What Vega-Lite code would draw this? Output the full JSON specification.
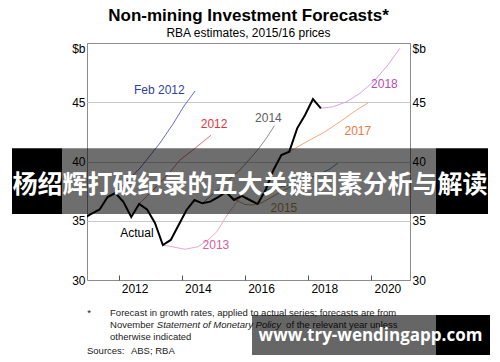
{
  "$schema": "https://vega.github.io/schema/vega-lite/v6.json",
  "autosize": {"type": "none"},
  "width": 323,
  "height": 237,
  "padding": {"left": 87, "top": 43, "right": 90, "bottom": 82},
  "background": "white",
  "config": {
    "view": {"stroke": "#8c8c8c", "strokeWidth": 1},
    "font": "Liberation Sans",
    "text": {"font": "Liberation Sans"}
  },
  "title": {
    "text": "Non-mining Investment Forecasts*",
    "subtitle": "RBA estimates, 2015/16 prices",
    "font": "Liberation Sans",
    "fontSize": 17,
    "fontWeight": "bold",
    "color": "#000",
    "subtitleFont": "Liberation Sans",
    "subtitleFontSize": 12,
    "subtitleColor": "#000",
    "subtitlePadding": 3,
    "anchor": "middle",
    "frame": "group",
    "offset": 2
  },
  "datasets": {
    "actual": [
      {"t": 2010.90, "v": 35.23}, {"t": 2011.15, "v": 35.61}, {"t": 2011.40, "v": 35.95},
      {"t": 2011.65, "v": 37.00}, {"t": 2011.90, "v": 37.34}, {"t": 2012.15, "v": 36.60},
      {"t": 2012.40, "v": 35.32}, {"t": 2012.65, "v": 36.41}, {"t": 2012.90, "v": 35.95},
      {"t": 2013.15, "v": 34.81}, {"t": 2013.40, "v": 32.95}, {"t": 2013.65, "v": 33.38},
      {"t": 2013.90, "v": 34.64}, {"t": 2014.15, "v": 35.91}, {"t": 2014.40, "v": 36.75},
      {"t": 2014.65, "v": 36.47}, {"t": 2014.90, "v": 36.61}, {"t": 2015.15, "v": 37.00},
      {"t": 2015.40, "v": 37.43}, {"t": 2015.65, "v": 36.75}, {"t": 2015.90, "v": 37.09},
      {"t": 2016.15, "v": 36.75}, {"t": 2016.40, "v": 36.41}, {"t": 2016.65, "v": 37.59},
      {"t": 2016.90, "v": 39.28}, {"t": 2017.15, "v": 40.55}, {"t": 2017.40, "v": 40.83},
      {"t": 2017.65, "v": 42.80}, {"t": 2017.90, "v": 43.92}, {"t": 2018.15, "v": 45.27},
      {"t": 2018.40, "v": 44.49}
    ],
    "lines": [
      {"s": "Feb 2012", "t": 2011.90, "v": 37.34}, {"s": "Feb 2012", "t": 2012.68, "v": 39.45},
      {"s": "Feb 2012", "t": 2013.31, "v": 41.56}, {"s": "Feb 2012", "t": 2013.72, "v": 43.16},
      {"s": "Feb 2012", "t": 2014.07, "v": 44.68}, {"s": "Feb 2012", "t": 2014.42, "v": 45.95},
      {"s": "2012", "t": 2012.65, "v": 36.41}, {"s": "2012", "t": 2013.15, "v": 37.76},
      {"s": "2012", "t": 2013.63, "v": 39.11}, {"s": "2012", "t": 2013.94, "v": 40.13},
      {"s": "2012", "t": 2014.35, "v": 40.97}, {"s": "2012", "t": 2014.92, "v": 42.21},
      {"s": "2013", "t": 2013.40, "v": 32.95}, {"s": "2013", "t": 2013.69, "v": 32.81},
      {"s": "2013", "t": 2014.10, "v": 32.59}, {"s": "2013", "t": 2014.51, "v": 32.81},
      {"s": "2013", "t": 2014.83, "v": 33.38}, {"s": "2013", "t": 2015.11, "v": 34.08},
      {"s": "2013", "t": 2015.27, "v": 34.78}, {"s": "2013", "t": 2015.47, "v": 35.63},
      {"s": "2013", "t": 2015.63, "v": 36.19}, {"s": "2013", "t": 2016.00, "v": 37.51},
      {"s": "2014", "t": 2014.65, "v": 36.47}, {"s": "2014", "t": 2015.27, "v": 37.93},
      {"s": "2014", "t": 2015.84, "v": 39.28}, {"s": "2014", "t": 2016.26, "v": 40.55},
      {"s": "2014", "t": 2016.47, "v": 41.22}, {"s": "2014", "t": 2016.70, "v": 42.07},
      {"s": "2014", "t": 2016.93, "v": 43.02},
      {"s": "2015", "t": 2015.40, "v": 37.43}, {"s": "2015", "t": 2015.71, "v": 36.75},
      {"s": "2015", "t": 2016.00, "v": 36.37}, {"s": "2015", "t": 2016.25, "v": 36.33},
      {"s": "2015", "t": 2016.54, "v": 36.54}, {"s": "2015", "t": 2016.85, "v": 37.00},
      {"s": "2015", "t": 2017.17, "v": 37.51}, {"s": "2015", "t": 2017.58, "v": 38.02},
      {"s": "2016", "t": 2016.65, "v": 37.59}, {"s": "2016", "t": 2017.27, "v": 37.93},
      {"s": "2016", "t": 2017.90, "v": 38.44}, {"s": "2016", "t": 2018.37, "v": 38.95},
      {"s": "2016", "t": 2018.69, "v": 39.37}, {"s": "2016", "t": 2018.94, "v": 39.87},
      {"s": "2017", "t": 2017.40, "v": 40.83}, {"s": "2017", "t": 2017.95, "v": 41.67},
      {"s": "2017", "t": 2018.48, "v": 42.43}, {"s": "2017", "t": 2019.01, "v": 43.36},
      {"s": "2017", "t": 2019.53, "v": 44.35}, {"s": "2017", "t": 2019.90, "v": 44.96},
      {"s": "2018", "t": 2018.40, "v": 44.49}, {"s": "2018", "t": 2018.79, "v": 44.62},
      {"s": "2018", "t": 2019.22, "v": 45.05}, {"s": "2018", "t": 2019.64, "v": 45.76},
      {"s": "2018", "t": 2020.06, "v": 46.73}, {"s": "2018", "t": 2020.48, "v": 48.00},
      {"s": "2018", "t": 2020.90, "v": 49.55}
    ],
    "labels": [
      {"s": "Feb 2012", "t": 2013.29, "v": 46.03},
      {"s": "2012", "t": 2015.02, "v": 43.14},
      {"s": "2013", "t": 2015.08, "v": 32.95},
      {"s": "2014", "t": 2016.74, "v": 43.71},
      {"s": "2015", "t": 2017.23, "v": 36.10},
      {"s": "2017", "t": 2019.57, "v": 42.60},
      {"s": "2018", "t": 2020.41, "v": 46.51},
      {"s": "Actual", "t": 2012.58, "v": 33.99}
    ],
    "bannerBlack": [
      {"t": 2008.627, "t2": 2010.209, "v": 41.114, "v2": 35.57},
      {"t": 2022.043, "t2": 2023.688, "v": 41.114, "v2": 35.57}
    ],
    "bannerGrey": [
      {"t": 2010.209, "t2": 2022.043, "v": 41.114, "v2": 35.57}
    ],
    "bannerText": [
      {"t": 2016.158, "v": 38.02, "text": "杨绍辉打破纪录的五大关键因素分析与解读"}
    ],
    "notes": [
      {"t": 2011.01, "v": 27.19, "text": "*"},
      {"t": 2011.73, "v": 27.19, "text": "Forecast in growth rates, applied to actual series; forecasts are from"},
      {"t": 2011.73, "v": 26.20, "text": "November"},
      {"t": 2017.30, "v": 26.20, "text": "of the relevant year unless"},
      {"t": 2011.73, "v": 25.22, "text": "otherwise indicated"},
      {"t": 2011.00, "v": 24.03, "text": "Sources:"},
      {"t": 2012.39, "v": 24.03, "text": "ABS; RBA"}
    ],
    "notesItalic": [
      {"t": 2013.21, "v": 26.20, "text": "Statement of Monetary Policy"}
    ],
    "wmGrey": [
      {"t": 2016.221, "t2": 2022.043, "v": 27.05, "v2": 23.67}
    ],
    "wmBlack": [
      {"t": 2022.043, "t2": 2023.752, "v": 27.05, "v2": 23.67}
    ],
    "wmText": [
      {"t": 2019.97, "v": 25.27, "text": "www.try-wendingapp.com"}
    ]
  },
  "layer": [
    {
      "data": {"name": "lines"},
      "mark": {"type": "line", "strokeWidth": 1},
      "encoding": {
        "x": {
          "field": "t", "type": "quantitative",
          "scale": {"domain": [2011, 2021.22], "nice": false, "zero": false},
          "axis": {
            "values": [2012, 2013, 2014, 2015, 2016, 2017, 2018, 2019, 2020, 2021],
            "labelExpr": "datum.value % 2 == 0 ? format(datum.value, 'd') : ''",
            "labelOffset": 16,
            "labelOverlap": false,
            "labelBound": false,
            "labelFlush": false,
            "tickSize": -5,
            "tickColor": "#555",
            "domain": false,
            "grid": false,
            "labelFont": "Liberation Sans",
            "labelFontSize": 12,
            "labelColor": "#000",
            "labelPadding": 8,
            "title": null
          }
        },
        "y": {
          "field": "v", "type": "quantitative",
          "scale": {"domain": [30, 50], "nice": false, "zero": false},
          "axis": {
            "orient": "left",
            "values": [30, 35, 40, 45, 50],
            "labelExpr": "datum.value == 50 ? '$b' : format(datum.value, 'd')",
            "labelBaseline": {"condition": {"test": "datum.value == 50", "value": "top"}, "value": "middle"},
            "grid": true,
            "gridColor": "#c8c8c8",
            "gridOpacity": {"condition": {"test": "datum.value == 30 || datum.value == 50", "value": 0}, "value": 1},
            "ticks": false,
            "domain": false,
            "labelPadding": 2,
            "labelFont": "Liberation Sans",
            "labelFontSize": 12,
            "labelColor": "#000",
            "title": null
          }
        },
        "color": {
          "field": "s", "type": "nominal",
          "scale": {
            "domain": ["Feb 2012", "2012", "2013", "2014", "2015", "2016", "2017", "2018"],
            "range": ["#6070c0", "#e8707a", "#e8a8c8", "#909090", "#c09850", "#4a9ac0", "#f5a77a", "#d8a2e0"]
          },
          "legend": null
        }
      }
    },
    {
      "data": {"name": "actual"},
      "mark": {"type": "line", "strokeWidth": 2, "color": "#000", "clip": true},
      "encoding": {
        "x": {"field": "t", "type": "quantitative"},
        "y": {
          "field": "v", "type": "quantitative",
          "axis": {
            "orient": "right",
            "values": [30, 35, 40, 45, 50],
            "labelExpr": "datum.value == 50 ? '$b' : format(datum.value, 'd')",
            "labelBaseline": {"condition": {"test": "datum.value == 50", "value": "top"}, "value": "middle"},
            "grid": false,
            "ticks": false,
            "domain": false,
            "labelPadding": 2,
            "labelFont": "Liberation Sans",
            "labelFontSize": 12,
            "labelColor": "#000",
            "title": null
          }
        }
      }
    },
    {
      "data": {"name": "labels"},
      "mark": {"type": "text", "fontSize": 12, "font": "Liberation Sans", "align": "center", "baseline": "middle"},
      "encoding": {
        "x": {"field": "t", "type": "quantitative"},
        "y": {"field": "v", "type": "quantitative", "axis": null},
        "text": {"field": "s"},
        "color": {
          "field": "s", "type": "nominal",
          "scale": {
            "domain": ["Feb 2012", "2012", "2013", "2014", "2015", "2017", "2018", "Actual"],
            "range": ["#2f3f9f", "#e4323c", "#d6609e", "#606060", "#b08a40", "#f0763a", "#b54bb8", "#000000"]
          },
          "legend": null
        }
      }
    },
    {
      "data": {"name": "bannerGrey"},
      "mark": {"type": "rect", "color": "#000", "opacity": 0.57},
      "encoding": {
        "x": {"field": "t", "type": "quantitative"},
        "x2": {"field": "t2"},
        "y": {"field": "v", "type": "quantitative", "axis": null},
        "y2": {"field": "v2"}
      }
    },
    {
      "data": {"name": "bannerBlack"},
      "mark": {"type": "rect", "color": "#000", "opacity": 1},
      "encoding": {
        "x": {"field": "t", "type": "quantitative"},
        "x2": {"field": "t2"},
        "y": {"field": "v", "type": "quantitative", "axis": null},
        "y2": {"field": "v2"}
      }
    },
    {
      "data": {"name": "bannerText"},
      "mark": {"type": "text", "font": "Noto Sans CJK SC", "fontSize": 25, "fontWeight": "bold", "color": "#fff", "align": "center", "baseline": "middle"},
      "encoding": {
        "x": {"field": "t", "type": "quantitative"},
        "y": {"field": "v", "type": "quantitative", "axis": null},
        "text": {"field": "text"}
      }
    },
    {
      "data": {"name": "notes"},
      "mark": {"type": "text", "font": "Liberation Sans", "fontSize": 9.5, "color": "#222", "align": "left", "baseline": "middle"},
      "encoding": {
        "x": {"field": "t", "type": "quantitative"},
        "y": {"field": "v", "type": "quantitative", "axis": null},
        "text": {"field": "text"}
      }
    },
    {
      "data": {"name": "notesItalic"},
      "mark": {"type": "text", "font": "Liberation Sans", "fontSize": 9.5, "fontStyle": "italic", "color": "#222", "align": "left", "baseline": "middle"},
      "encoding": {
        "x": {"field": "t", "type": "quantitative"},
        "y": {"field": "v", "type": "quantitative", "axis": null},
        "text": {"field": "text"}
      }
    },
    {
      "data": {"name": "wmGrey"},
      "mark": {"type": "rect", "color": "#000", "opacity": 0.6},
      "encoding": {
        "x": {"field": "t", "type": "quantitative"},
        "x2": {"field": "t2"},
        "y": {"field": "v", "type": "quantitative", "axis": null},
        "y2": {"field": "v2"}
      }
    },
    {
      "data": {"name": "wmBlack"},
      "mark": {"type": "rect", "color": "#000", "opacity": 1},
      "encoding": {
        "x": {"field": "t", "type": "quantitative"},
        "x2": {"field": "t2"},
        "y": {"field": "v", "type": "quantitative", "axis": null},
        "y2": {"field": "v2"}
      }
    },
    {
      "data": {"name": "wmText"},
      "mark": {"type": "text", "font": "Open Sans", "fontSize": 17, "fontWeight": "bold", "color": "#fff", "align": "center", "baseline": "middle"},
      "encoding": {
        "x": {"field": "t", "type": "quantitative"},
        "y": {"field": "v", "type": "quantitative", "axis": null},
        "text": {"field": "text"}
      }
    }
  ],
  "resolve": {"scale": {"color": "independent"}, "axis": {"y": "independent"}}
}
